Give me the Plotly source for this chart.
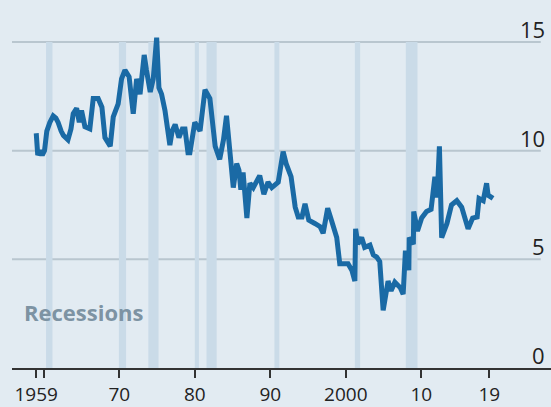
import plotly.graph_objects as go

# Series (decimal year, value)
years = [1959.0, 1959.2, 1959.5, 1959.8, 1960.1, 1960.4, 1960.8, 1961.25, 1961.6, 1961.9,
         1962.3, 1962.6, 1963.2, 1963.6, 1963.9, 1964.35, 1964.7, 1965.0, 1965.45, 1966.1,
         1966.55, 1967.2, 1967.7, 1968.1, 1968.8, 1969.2, 1969.85, 1970.3, 1970.75, 1971.3,
         1971.85, 1972.3, 1972.75, 1973.3, 1973.6, 1974.1, 1974.5, 1974.95, 1975.25, 1975.6,
         1976.05, 1976.7, 1977.0, 1977.4, 1977.9, 1978.35, 1978.7, 1979.1, 1979.35, 1980.0,
         1980.7, 1981.35, 1982.0, 1982.7, 1983.3, 1983.8, 1984.2, 1984.65, 1985.1, 1985.55,
         1985.85, 1986.1, 1986.4, 1986.9, 1987.3, 1987.75, 1988.2, 1988.6, 1989.15, 1989.7,
         1990.2, 1991.05, 1991.7, 1992.1, 1992.75, 1993.3, 1993.7, 1994.2, 1994.6, 1995.1,
         1995.9, 1996.6, 1997.0, 1997.6, 1998.1, 1998.8, 1999.2, 1999.9, 2000.3, 2000.8,
         2001.2, 2001.3, 2001.6, 2002.1, 2002.5, 2003.2, 2003.65, 2004.1, 2004.5, 2004.95,
         2005.6, 2006.0, 2006.5, 2007.2, 2007.6, 2007.9, 2008.35, 2008.4, 2008.95, 2009.0,
         2009.5, 2010.05, 2010.7, 2011.3, 2011.8, 2012.1, 2012.4, 2012.7, 2013.4, 2014.0,
         2014.7, 2015.35, 2016.2, 2016.8, 2017.4, 2017.65, 2018.2, 2018.65, 2018.85, 2019.5]
values = [10.8, 9.8, 10.0, 9.8, 10.0, 10.9, 11.3, 11.6, 11.5, 11.3,
          10.9, 10.7, 10.5, 11.0, 11.7, 11.95, 11.3, 11.85, 11.1, 11.0,
          12.4, 12.4, 12.0, 10.6, 10.2, 11.55, 12.15, 13.3, 13.7, 13.4,
          11.7, 13.3, 12.6, 14.4, 13.7, 12.7, 13.3, 15.2, 12.9, 12.6,
          11.85, 10.25, 10.9, 11.2, 10.6, 11.0, 11.0, 9.9, 9.9, 11.3,
          10.9, 12.8, 12.4, 10.2, 9.6, 10.5, 11.6, 10.0, 8.3, 9.4,
          9.1, 8.2, 9.0, 6.9, 8.5, 8.3, 8.6, 8.85, 8.0, 8.55,
          8.3, 8.55, 9.95, 9.4, 8.8, 7.4, 6.95, 6.95, 7.55, 6.8,
          6.65, 6.5, 6.2, 7.35, 6.8, 6.0, 4.8, 4.8, 4.8, 4.5,
          4.0, 6.4, 5.7, 6.0, 5.55, 5.65, 5.2, 5.1, 4.9, 2.65,
          4.0, 3.55, 3.95, 3.7, 3.4, 5.4, 4.5, 6.0, 5.7, 7.2,
          6.3, 6.9, 7.2, 7.3, 8.8, 7.85, 10.2, 6.0, 6.65, 7.5,
          7.7, 7.4, 6.4, 6.9, 6.95, 7.8, 7.7, 8.5, 7.95, 7.8]

# Recession periods (start, end) in decimal years
rec_start = [1960.3, 1969.95, 1973.85, 1980.0, 1981.55, 1990.55, 2001.2, 2007.95]
rec_end = [1961.15, 1970.9, 1975.2, 1980.55, 1982.9, 1991.2, 2001.9, 2009.5]

x_tickvals = [1959, 1960, 1970, 1980, 1990, 2000, 2010, 2019]
x_ticktext = ["1959", "", "70", "80", "90", "2000", "10", "19"]
y_gridvals = [5, 10, 15]
y_labels = ["0", "5", "10", "15"]
y_labelvals = [0, 5, 10, 15]

BG = "#e2ebf2"
BAND = "#cadbe8"
GRID = "#b9c6cf"
LINE = "#1a6aa5"
FONT = "Open Sans"

fig = go.Figure()
fig.add_trace(go.Scatter(x=years, y=values, mode="lines",
                         line=dict(color=LINE, width=5), hoverinfo="skip"))

shapes = []
for s, e in zip(rec_start, rec_end):
    shapes.append(dict(type="rect", xref="x", yref="y", x0=s, x1=e, y0=0, y1=15,
                       fillcolor=BAND, line=dict(width=0), layer="below"))
for g in y_gridvals:
    shapes.append(dict(type="line", xref="paper", yref="y", x0=0, x1=0.981, y0=g, y1=g,
                       line=dict(color=GRID, width=2), layer="below"))

annotations = []
for v, t in zip(y_labelvals, y_labels):
    annotations.append(dict(xref="paper", yref="y", x=0.9926, y=v, text=t, showarrow=False,
                            xanchor="right", yanchor="middle", yshift=13,
                            font=dict(family=FONT, size=22, color="#222222")))
annotations.append(dict(xref="paper", yref="y", x=0.019, y=2.56, text="<b>Recessions</b>",
                        showarrow=False, xanchor="left", yanchor="middle",
                        font=dict(family=FONT, size=22, color="#7d93a3")))

fig.update_layout(
    width=551, height=407,
    margin=dict(l=12, r=0, t=0, b=39, autoexpand=False),
    paper_bgcolor=BG, plot_bgcolor=BG,
    showlegend=False,
    shapes=shapes, annotations=annotations,
    xaxis=dict(range=[1955.79, 2027.18], tickvals=x_tickvals, ticktext=x_ticktext,
               automargin=False,
               showgrid=False, zeroline=False, showline=True, linecolor="#333333", linewidth=2,
               ticks="outside", ticklen=8, tickwidth=2, tickcolor="#333333",
               tickfont=dict(family=FONT, size=19, color="#222222"), fixedrange=True),
    yaxis=dict(range=[0, 16.93], showgrid=False, zeroline=False, showticklabels=False,
               automargin=False, showline=False, fixedrange=True),
)

fig.write_html("out.html", config={"displayModeBar": False},
               post_script="document.body.style.margin='0';")
